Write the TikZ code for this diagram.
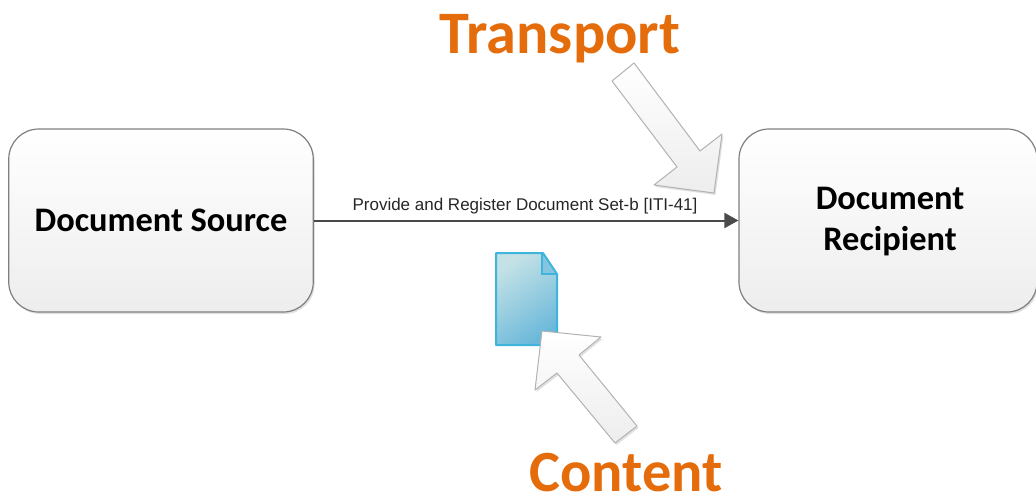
\documentclass[tikz,border=0pt]{standalone}
\usepackage{fontspec}
\setmainfont{Carlito}
\newfontfamily\labelfont{Liberation Sans}
\usetikzlibrary{arrows.meta,shadows}
\definecolor{boxline}{HTML}{7F7F7F}
\definecolor{linkline}{HTML}{4A4A4A}
\definecolor{orangetxt}{HTML}{E46C0A}
\definecolor{docline}{HTML}{3FB4DC}
\definecolor{docA}{HTML}{C4E2E6}
\definecolor{docB}{HTML}{6BB8DA}
\tikzset{
  softshadow/.style={general shadow={fill=black,opacity=0.12,shadow xshift=1.5pt,shadow yshift=-2pt}},
  roundbox/.style={draw=boxline,line width=1.2pt,rounded corners=30pt,minimum width=304.5pt,minimum height=183pt,
    top color=white,bottom color=black!7,align=center,font=\bfseries\fontsize{34.4}{41}\selectfont,inner sep=0pt,softshadow},
  linkarrow/.style={draw=linkline,line width=2pt,-{Triangle[length=14pt,width=15pt]}},
  bigarrow/.style={draw=black!30,line width=1pt,shade,top color=white,bottom color=black!7,line join=round,softshadow},
  bigtext/.style={text=orangetxt,anchor=base,inner sep=0pt},
  linktext/.style={font=\labelfont\fontsize{17}{18}\selectfont,text=black!85,inner sep=0pt},
}
\begin{document}
\begin{tikzpicture}[x=1pt,y=-1pt]
\path[use as bounding box] (0,0) rectangle (1036,499);
\clip (0,0) rectangle (1036,499);
\node[roundbox] (source) at (161,220.5) {Document Source};
\node[roundbox,minimum width=298pt] (recipient) at (888,220.5) {};
\node[font=\bfseries\fontsize{34.4}{41}\selectfont,align=center,inner sep=0pt] (recipientlabel) at (890,222) {Document\\Recipient};
\draw[linkarrow] (source.east) -- (recipient.west);
\node[linktext] (protocol) at (525,206.5) {Provide and Register Document Set-b [ITI-41]};
% document icon
\path[top color=docA,bottom color=docB,shading angle=35] (496,253) -- (543,253) -- (557,274) -- (557,345) -- (496,345) -- cycle;
\fill[docB!70!docA] (543,253) -- (557,274) -- (542,274) -- cycle;
\draw[docline,line width=1.3pt] (542,254) -- (542,274) -- (557,274);
\draw[docline,line width=2pt,line join=round] (496,253) -- (543,253) -- (557,274) -- (557,345) -- (496,345) -- cycle;
% big arrows
\path[bigarrow] (634,63) -- (612,81) -- (677,167) -- (654,185) -- (714,193) -- (722,134) -- (700,151) -- cycle;
\path[bigarrow] (542,331) -- (601,337) -- (579,355) -- (637,426) -- (615,443) -- (557,373) -- (535,390) -- cycle;
\node[bigtext,font=\bfseries\fontsize{60.3}{62}\selectfont] (transport) at (560,53) {Transport};
\node[bigtext,font=\bfseries\fontsize{58.4}{60}\selectfont] (content) at (626,491) {Content};
\end{tikzpicture}
\end{document}
